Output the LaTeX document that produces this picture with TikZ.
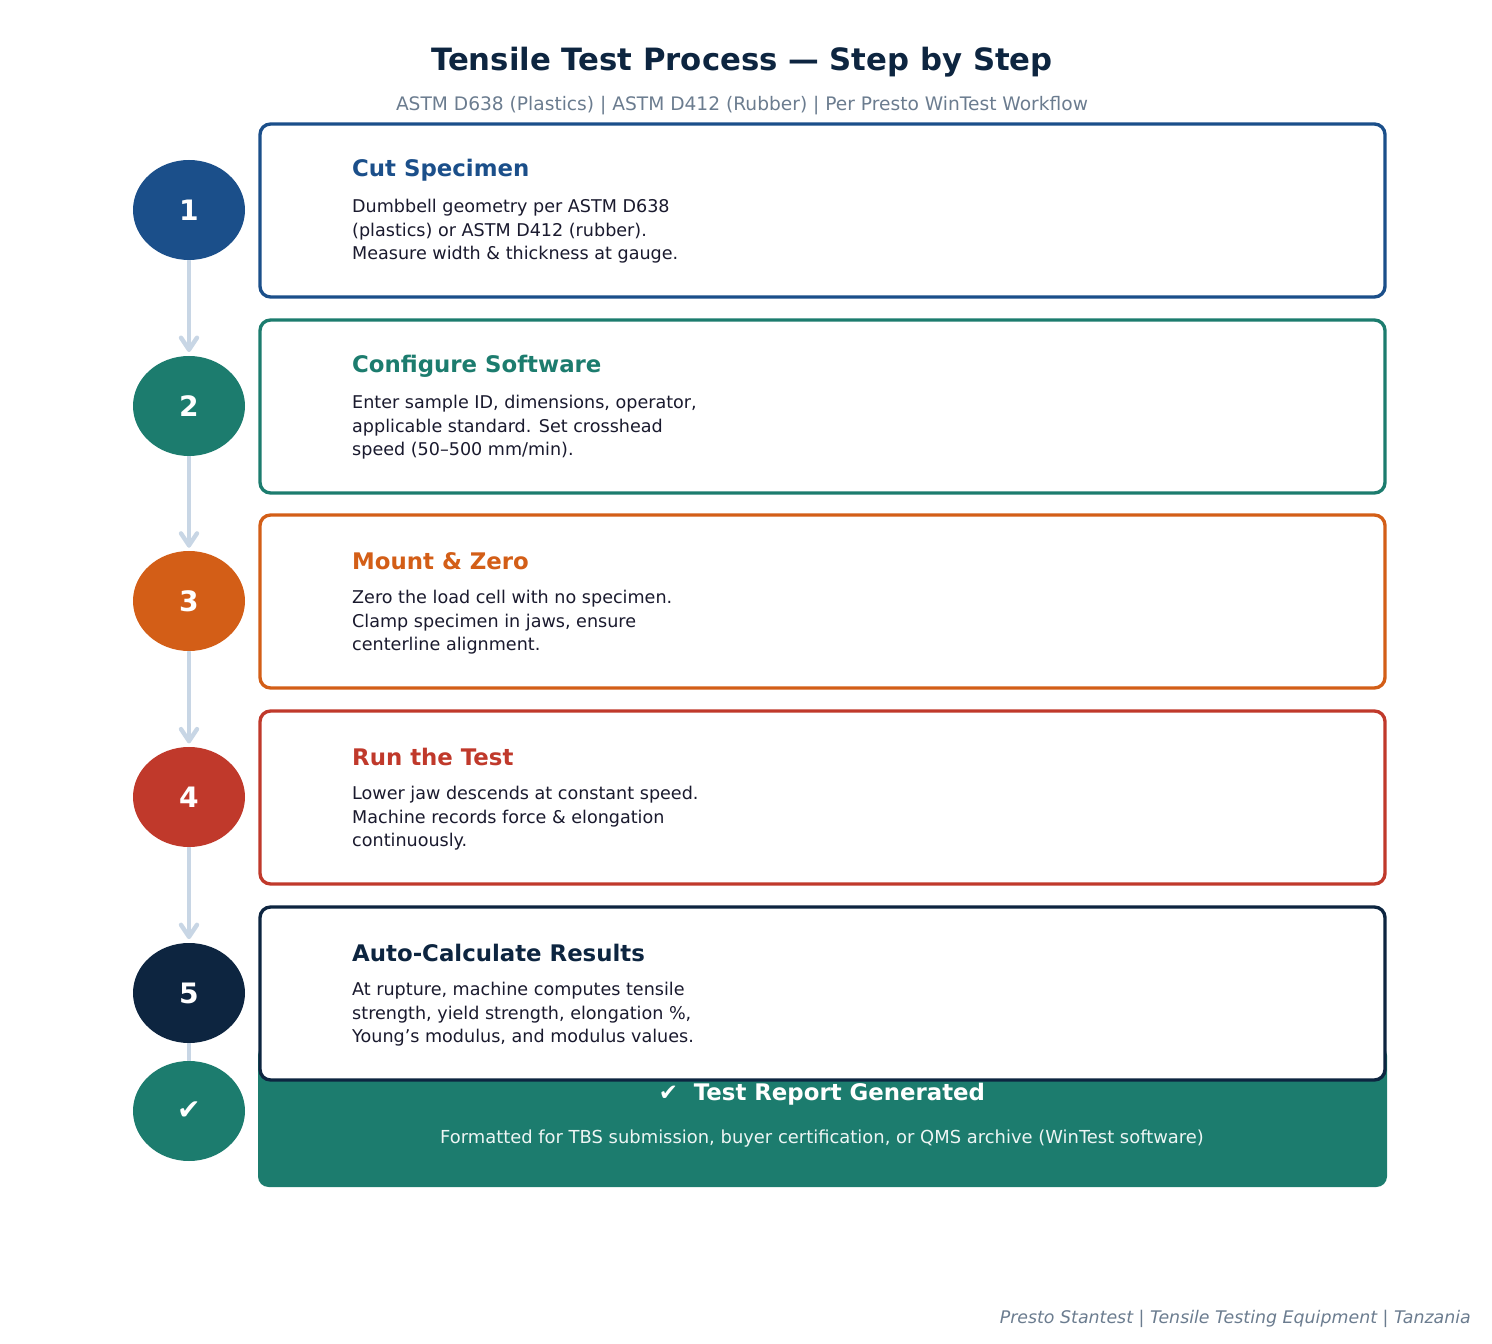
\documentclass[tikz,border=0pt]{standalone}
\usepackage{fontspec}
\setmainfont{DejaVu Sans}
\usetikzlibrary{positioning,shapes.geometric}
\definecolor{stepblue}{HTML}{1B4F8A}
\definecolor{stepteal}{HTML}{1C7C6E}
\definecolor{steporange}{HTML}{D35E17}
\definecolor{stepred}{HTML}{C0392B}
\definecolor{stepnavy}{HTML}{0D2540}
\definecolor{subgray}{HTML}{6B7C8F}
\definecolor{linkgray}{HTML}{C8D6E5}
\definecolor{bodytext}{HTML}{1A1A2E}

\tikzset{
  numcircle/.style={ellipse,minimum width=112*0.02cm,minimum height=100*0.02cm,inner sep=0pt,text=white,font=\fontsize{16}{19}\selectfont\bfseries},
  stepbox/.style={draw,line width=1.9pt,rounded corners=6pt,fill=white},
  steptitle/.style={anchor=west,font=\fontsize{13}{15}\selectfont\bfseries},
  stepbody/.style={anchor=north west,align=left,text=bodytext,font=\fontsize{10}{13.4}\selectfont},
  link/.style={draw=linkgray,line width=2.5pt}
}

\begin{document}
\begin{tikzpicture}[x=0.02cm,y=-0.02cm]
\useasboundingbox (0,0) rectangle (1492,1344);
% header
\node (title) at (742,62) {\fontsize{17.5}{20}\selectfont\bfseries\color{stepnavy}Tensile Test Process — Step by Step};
\node (subtitle) at (742,106) {\fontsize{10.6}{12}\selectfont\color{subgray}ASTM D638 (Plastics) | ASTM D412 (Rubber) | Per Presto WinTest Workflow};
% final result box
\fill[stepteal,rounded corners=6pt] (258,1045) rectangle (1387,1187);
\node (resulttitle) at (822,1094) {\fontsize{13}{15}\selectfont\bfseries\color{white}✔\ \ Test Report Generated};
\node (resultbody) at (822,1139) {\fontsize{10.2}{12}\selectfont\color{white!92!stepteal}Formatted for TBS submission, buyer certification, or QMS archive (WinTest software)};
% connectors
\foreach \a in {1,...,4} {
  \draw[link,line cap=round] (189,{(\a-1)*195.7+261}) -- (189,{\a*195.7+154});
  \draw[link,line cap=round,line join=round] (181,{\a*195.7+142}) -- (189,{\a*195.7+154}) -- (197,{\a*195.7+142});
}
\draw[link] (189,1043) -- (189,1061);
\node[numcircle,fill=stepteal] (c6) at (189,1111) {✔};
% steps
\foreach \i/\y/\col/\head/\body in {
  1/210/stepblue/Cut Specimen/{Dumbbell geometry per ASTM D638\\(plastics) or ASTM D412 (rubber).\\Measure width \& thickness at gauge.},
  2/406/stepteal/Configure Software/{Enter sample ID, dimensions, operator,\\applicable standard. Set crosshead\\speed (50–500 mm/min).},
  3/601/steporange/Mount \& Zero/{Zero the load cell with no specimen.\\Clamp specimen in jaws, ensure\\centerline alignment.},
  4/797/stepred/Run the Test/{Lower jaw descends at constant speed.\\Machine records force \& elongation\\continuously.},
  5/993/stepnavy/Auto-Calculate Results/{At rupture, machine computes tensile\\strength, yield strength, elongation \%,\\Young's modulus, and modulus values.}} {
  \draw[stepbox,draw=\col] (260,\y-86) rectangle (1385,\y+87);
  \node[numcircle,fill=\col] (c\i) at (189,\y) {\i};
  \node[steptitle,text=\col] (t\i) at (346,\y-40) {\head};
  \node[stepbody] (b\i) at (346,\y-17) {\body};
}
% footer
\node[anchor=east] (footer) at (1477,1319) {\fontsize{9.9}{12}\selectfont\itshape\color{subgray}Presto Stantest | Tensile Testing Equipment | Tanzania};
\end{tikzpicture}
\end{document}
